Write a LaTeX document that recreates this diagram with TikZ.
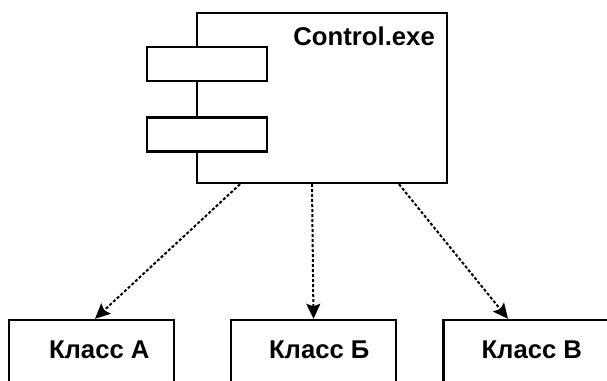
\documentclass[tikz,border=0pt]{standalone}
\usepackage{fontspec}
\setmainfont{Liberation Sans}
\usetikzlibrary{arrows.meta,positioning}

\begin{document}
\begin{tikzpicture}[x=1pt,y=-1pt,>={Stealth[length=15pt,width=14pt,inset=2.5pt]},
    font=\fontsize{25.7}{30}\selectfont\bfseries,
    box/.style={draw,line width=2.4pt,fill=white,inner sep=0pt},
    comp/.style={box,minimum width=250pt,minimum height=170pt},
    port/.style={box,minimum width=120pt,minimum height=34pt},
    klass/.style={box,minimum width=165pt,minimum height=100pt},
    dep/.style={->,line width=2pt,dash pattern=on 3pt off 2pt}]

                \useasboundingbox (0,0) rectangle (607,380);

                \node[comp] (ctl) at (322,98) {};
                \node[anchor=north east,inner sep=0pt] (ctlname) at (435,27) {Control.exe};

                \node[port] (p1) at (207,64) {};
                \node[port] (p2) [below=34pt of p1] {};

                \node[klass,label={[anchor=base west,xshift=41pt,yshift=-40pt,inner sep=0pt]north west:Класс А}] (ka) at (91.5,370) {};
                \node[klass,label={[anchor=base west,xshift=39pt,yshift=-40pt,inner sep=0pt]north west:Класс Б}] (kb) at (313.5,370) {};
                \node[klass,label={[anchor=base west,xshift=39pt,yshift=-40pt,inner sep=0pt]north west:Класс В}] (kc) at (526,370) {};

                \draw[dep] ([xshift=-82pt]ctl.south) -- ([xshift=3.5pt]ka.north);
                \draw[dep] ([xshift=-10pt]ctl.south) -- (kb.north);
                \draw[dep] ([xshift=77pt]ctl.south) -- ([xshift=-18pt]kc.north);

\end{tikzpicture}
\end{document}
